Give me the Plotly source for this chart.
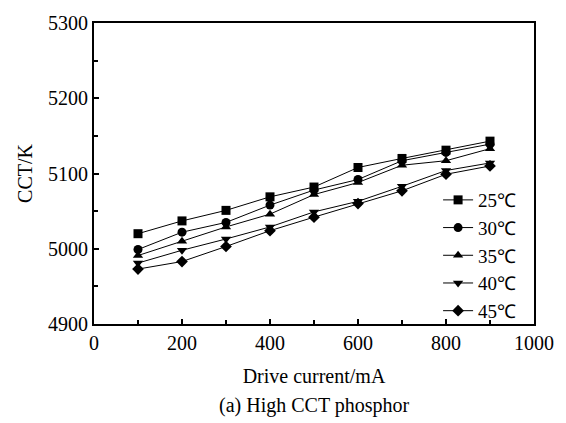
import plotly.graph_objects as go

# Drive current (mA) and CCT (K) for each junction temperature
current = [100, 200, 300, 400, 500, 600, 700, 800, 900]
cct_25 = [5020, 5037, 5051, 5069, 5082, 5108, 5120, 5131, 5143]
cct_30 = [4999, 5022, 5035, 5058, 5078, 5092, 5117, 5128, 5139]
cct_35 = [4991, 5010, 5029, 5046, 5072, 5088, 5111, 5117, 5133]
cct_40 = [4981, 4998, 5013, 5029, 5049, 5063, 5083, 5104, 5114]
cct_45 = [4973, 4983, 5003, 5024, 5042, 5060, 5077, 5099, 5110]

labels = ["25℃", "30℃", "35℃", "40℃", "45℃"]
series = [cct_25, cct_30, cct_35, cct_40, cct_45]
symbols = ["square", "circle", "triangle-up", "triangle-down", "diamond"]

FONT = "Liberation Serif"

fig = go.Figure()
for name, ys, sym in zip(labels, series, symbols):
    fig.add_trace(go.Scatter(
        x=current, y=ys, name=name, mode="lines+markers",
        line=dict(color="black", width=1),
        marker=dict(symbol=sym, size=9, color="black"),
    ))

axis_common = dict(
    showline=True, linecolor="black", linewidth=2, mirror=True,
    ticks="inside", ticklen=5, tickwidth=1.5, tickcolor="black",
    showgrid=False, zeroline=False,
    tickfont=dict(family=FONT, size=20, color="black"),
)

fig.update_xaxes(
    range=[0, 1000], dtick=200, tick0=0,
    minor=dict(dtick=100, ticks="inside", ticklen=4, tickcolor="black"),
    title=dict(text="Drive current/mA", font=dict(family=FONT, size=20, color="black"), standoff=16),
    **axis_common,
)
fig.update_yaxes(
    range=[4900, 5300], dtick=100, tick0=4900,
    minor=dict(dtick=50, ticks="inside", ticklen=4, tickcolor="black"),
    title=dict(text="CCT/K", font=dict(family=FONT, size=20, color="black"), standoff=10),
    **axis_common,
)

fig.add_annotation(
    text="(a) High CCT phosphor", xref="paper", yref="paper",
    x=0.5, y=-0.27, xanchor="center", yanchor="middle", showarrow=False,
    font=dict(family=FONT, size=20, color="black"),
)

fig.update_layout(
    width=566, height=423,
    margin=dict(l=94, r=21, t=19, b=99),
    paper_bgcolor="white", plot_bgcolor="white",
    font=dict(family=FONT, color="black"),
    legend=dict(
        x=0.782, y=0.475, xanchor="left", yanchor="top",
        bgcolor="rgba(0,0,0,0)", borderwidth=0,
        font=dict(family=FONT, size=19, color="black"),
        tracegroupgap=0,
    ),
)

fig.write_html("out.html")
